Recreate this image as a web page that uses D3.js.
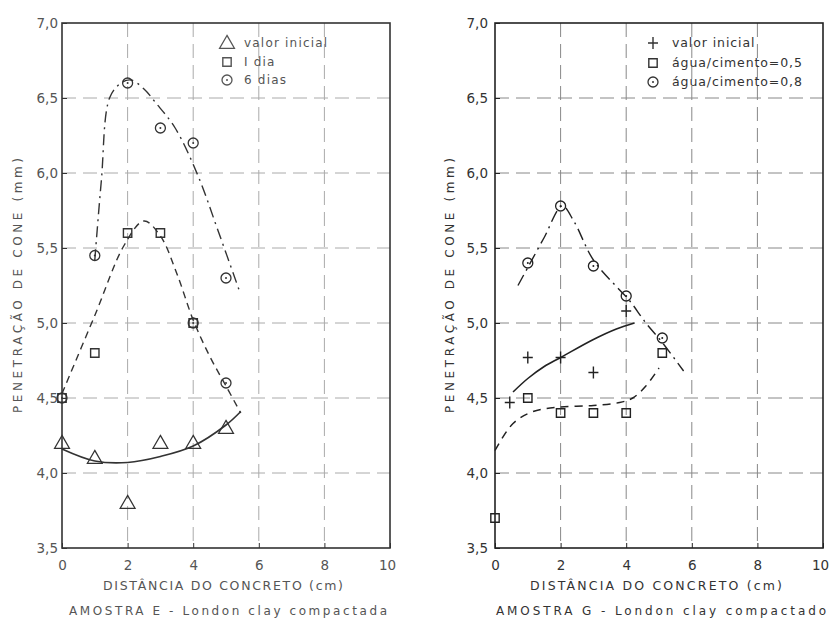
<!DOCTYPE html>
<html><head><meta charset="utf-8">
<script src="https://cdn.jsdelivr.net/npm/d3@7"></script>
<style>
body{margin:0;background:#fff;}
svg{display:block;}
text{font-family:"DejaVu Sans", sans-serif;}
</style></head>
<body>
<svg id="chart" width="829" height="628"></svg>
<script>
// ---------- shared axis data ----------
const xTicks = [0, 2, 4, 6, 8, 10];
const yTicks = [3.5, 4.0, 4.5, 5.0, 5.5, 6.0, 6.5, 7.0];
const yTickLabels = ["3,5", "4,0", "4,5", "5,0", "5,5", "6,0", "6,5", "7,0"];
const xTitle = "DISTÂNCIA DO CONCRETO (cm)";
const yTitle = "PENETRAÇÃO DE CONE (mm)";

// ---------- left panel: AMOSTRA E ----------
const captionE = "AMOSTRA E - London clay compactada";
const legendE = ["valor inicial", "I dia", "6 dias"];
const eInicialX = [0, 1, 2, 3, 4, 5];
const eInicialY = [4.2, 4.1, 3.8, 4.2, 4.2, 4.3];
const e1DiaX = [0, 1, 2, 3, 4];
const e1DiaY = [4.5, 4.8, 5.6, 5.6, 5.0];
const e6DiasX = [0, 1, 2, 3, 4, 4, 5, 5];
const e6DiasY = [4.5, 5.45, 6.6, 6.3, 6.2, 5.0, 5.3, 4.6];
// hand-drawn fitted curves
const eCurveInicial = [[0, 4.16], [1, 4.08], [2, 4.07], [3, 4.11], [4, 4.18], [5, 4.32], [5.45, 4.41]];
const eCurve1Dia = [[0, 4.53], [1, 5.05], [1.9, 5.52], [2.5, 5.68], [3, 5.58], [3.5, 5.33], [4, 5.02], [4.5, 4.78], [5, 4.58], [5.45, 4.4]];
const eCurve6Dias = [[1.0, 5.42], [1.2, 5.95], [1.45, 6.5], [1.8, 6.6], [2.1, 6.62], [2.5, 6.56], [2.85, 6.47], [3.45, 6.3], [4.15, 5.98], [4.75, 5.62], [5.4, 5.22]];

// ---------- right panel: AMOSTRA G ----------
const captionG = "AMOSTRA G - London clay compactado";
const legendG = ["valor inicial", "água/cimento=0,5", "água/cimento=0,8"];
const gInicialX = [0.45, 1, 2, 3, 4];
const gInicialY = [4.47, 4.77, 4.77, 4.67, 5.08];
const g05X = [0, 1, 2, 3, 4, 5.1];
const g05Y = [3.7, 4.5, 4.4, 4.4, 4.4, 4.8];
const g08X = [1, 2, 3, 4, 5.1];
const g08Y = [5.4, 5.78, 5.38, 5.18, 4.9];
const gCurveInicial = [[0.55, 4.54], [1, 4.63], [1.5, 4.71], [2, 4.77], [3, 4.89], [3.7, 4.96], [4.25, 5.0]];
const gCurve05 = [[0, 4.15], [0.55, 4.33], [1.16, 4.41], [2, 4.44], [3, 4.45], [3.8, 4.47], [4.2, 4.5], [4.6, 4.58], [5.0, 4.7]];
const gCurve08 = [[0.7, 5.25], [1.05, 5.39], [1.5, 5.57], [2.05, 5.78], [2.4, 5.68], [3, 5.42], [3.8, 5.22], [4.1, 5.15], [4.6, 5.0], [5.1, 4.87], [5.75, 4.68]];

const zip = (xs, ys) => xs.map((x, i) => [x, ys[i]]);

const svg = d3.select("#chart");

const panels = [
  {
    left: 62, right: 390, top: 23, bottom: 548,
    ink: "#555", line: "#333", grid: "#aaa", tickPad: 4,
    yTitleX: 18, xTitleW: 240, capW: 318,
    caption: captionE,
    series: [
      {pts: zip(eInicialX, eInicialY), sym: "triangle"},
      {pts: zip(e1DiaX, e1DiaY), sym: "square"},
      {pts: zip(e6DiasX, e6DiasY), sym: "circle"}
    ],
    curves: [
      {pts: eCurveInicial, dash: null, w: 1.6},
      {pts: eCurve1Dia, dash: "7,5", w: 1.4},
      {pts: eCurve6Dias, dash: "11,5,2,5", w: 1.4}
    ],
    legend: {labels: legendE, syms: ["triangle", "square", "circle"], x: 227, tx: 244, ys: [43, 62, 80], fs: 12, ls: 1.2}
  },
  {
    left: 495, right: 823, top: 23, bottom: 548,
    ink: "#333", line: "#222", grid: "#888", tickPad: 7,
    yTitleX: 450, xTitleW: 252, capW: 330,
    caption: captionG,
    series: [
      {pts: zip(gInicialX, gInicialY), sym: "plus"},
      {pts: zip(g05X, g05Y), sym: "square"},
      {pts: zip(g08X, g08Y), sym: "circle"}
    ],
    curves: [
      {pts: gCurveInicial, dash: null, w: 1.6},
      {pts: gCurve05, dash: "8,6", w: 1.5},
      {pts: gCurve08, dash: "12,5,2,5", w: 1.4}
    ],
    legend: {labels: legendG, syms: ["plus", "square", "circle"], x: 653, tx: 672, ys: [43, 63, 82], fs: 12.5, ls: 0.9}
  }
];

function drawSymbol(g, sym, cx, cy, color) {
  if (sym === "triangle") {
    g.append("path").attr("d", d3.symbol(d3.symbolTriangle, 95)())
      .attr("transform", `translate(${cx},${cy + 1})`)
      .attr("fill", "none").attr("stroke", color).attr("stroke-width", 1.3);
  } else if (sym === "square") {
    g.append("path").attr("d", d3.symbol(d3.symbolSquare, 70)())
      .attr("transform", `translate(${cx},${cy})`)
      .attr("fill", "none").attr("stroke", color).attr("stroke-width", 1.4);
  } else if (sym === "circle") {
    g.append("circle").attr("cx", cx).attr("cy", cy).attr("r", 5)
      .attr("fill", "none").attr("stroke", color).attr("stroke-width", 1.3);
    g.append("circle").attr("cx", cx).attr("cy", cy).attr("r", 1)
      .attr("fill", color);
  } else if (sym === "plus") {
    g.append("path").attr("d", `M${cx - 5},${cy}H${cx + 5}M${cx},${cy - 6}V${cy + 6}`)
      .attr("stroke", color).attr("stroke-width", 1.4).attr("fill", "none");
  }
}

panels.forEach(p => {
  const x = d3.scaleLinear().domain([0, 10]).range([p.left, p.right]);
  const y = d3.scaleLinear().domain([3.5, 7.0]).range([p.bottom, p.top]);
  const g = svg.append("g");

  // grid
  g.append("g").selectAll("line").data(xTicks.slice(1, -1)).join("line")
    .attr("x1", d => x(d)).attr("x2", d => x(d))
    .attr("y1", p.top).attr("y2", p.bottom)
    .attr("stroke", p.grid).attr("stroke-width", 1).attr("stroke-dasharray", "14,7");
  g.append("g").selectAll("line").data(yTicks.slice(1, -1)).join("line")
    .attr("y1", d => y(d)).attr("y2", d => y(d))
    .attr("x1", p.left).attr("x2", p.right)
    .attr("stroke", p.grid).attr("stroke-width", 1).attr("stroke-dasharray", "14,7");

  // axes
  const ax = g.append("g").attr("transform", `translate(0,${p.bottom})`)
    .call(d3.axisBottom(x).tickValues(xTicks).tickSize(-5).tickPadding(12));
  const ay = g.append("g").attr("transform", `translate(${p.left},0)`)
    .call(d3.axisLeft(y).tickValues(yTicks).tickFormat((d, i) => yTickLabels[i]).tickSize(-5).tickPadding(p.tickPad));
  [ax, ay].forEach(a => {
    a.select(".domain").remove();
    a.selectAll(".tick line").attr("stroke", p.line);
    a.selectAll(".tick text").attr("fill", p.ink).style("font-size", "13.5px")
      .style("font-family", "DejaVu Sans, sans-serif");
  });
  ax.selectAll(".tick text").filter(d => d === 10).attr("dx", "-3");

  // frame
  g.append("rect").attr("x", p.left).attr("y", p.top)
    .attr("width", p.right - p.left).attr("height", p.bottom - p.top)
    .attr("fill", "none").attr("stroke", p.line).attr("stroke-width", 1.6);

  // curves
  const lineGen = d3.line().x(d => x(d[0])).y(d => y(d[1])).curve(d3.curveCatmullRom.alpha(0.5));
  p.curves.forEach(c => {
    g.append("path").attr("d", lineGen(c.pts)).attr("fill", "none")
      .attr("stroke", p.line).attr("stroke-width", c.w)
      .attr("stroke-dasharray", c.dash);
  });

  // markers
  p.series.forEach(s => {
    s.pts.forEach(d => drawSymbol(g, s.sym, x(d[0]), y(d[1]), p.line));
  });

  // legend
  const L = p.legend;
  L.labels.forEach((lab, i) => {
    drawSymbol(g, L.syms[i], L.x, L.ys[i], p.ink);
    g.append("text").attr("x", L.tx).attr("y", L.ys[i]).attr("dy", "0.35em")
      .attr("fill", p.ink).style("font-size", L.fs + "px").style("letter-spacing", L.ls + "px")
      .text(lab);
  });

  // titles
  const cx = (p.left + p.right) / 2;
  g.append("text").attr("x", cx - 3).attr("y", 586).attr("dy", "0.35em")
    .attr("text-anchor", "middle").attr("fill", p.ink).style("font-size", "12.5px")
    .attr("textLength", p.xTitleW).attr("lengthAdjust", "spacing").text(xTitle);
  g.append("text").attr("x", cx + 2).attr("y", 611).attr("dy", "0.35em")
    .attr("text-anchor", "middle").attr("fill", p.ink).style("font-size", "12px")
    .attr("textLength", p.capW).attr("lengthAdjust", "spacing").text(p.caption);
  g.append("text").attr("transform", `translate(${p.yTitleX},${(p.top + p.bottom) / 2})rotate(-90)`)
    .attr("dy", "0.35em").attr("text-anchor", "middle").attr("fill", p.ink)
    .style("font-size", "12px").attr("textLength", 255).attr("lengthAdjust", "spacing").text(yTitle);
});
</script>
</body></html>
